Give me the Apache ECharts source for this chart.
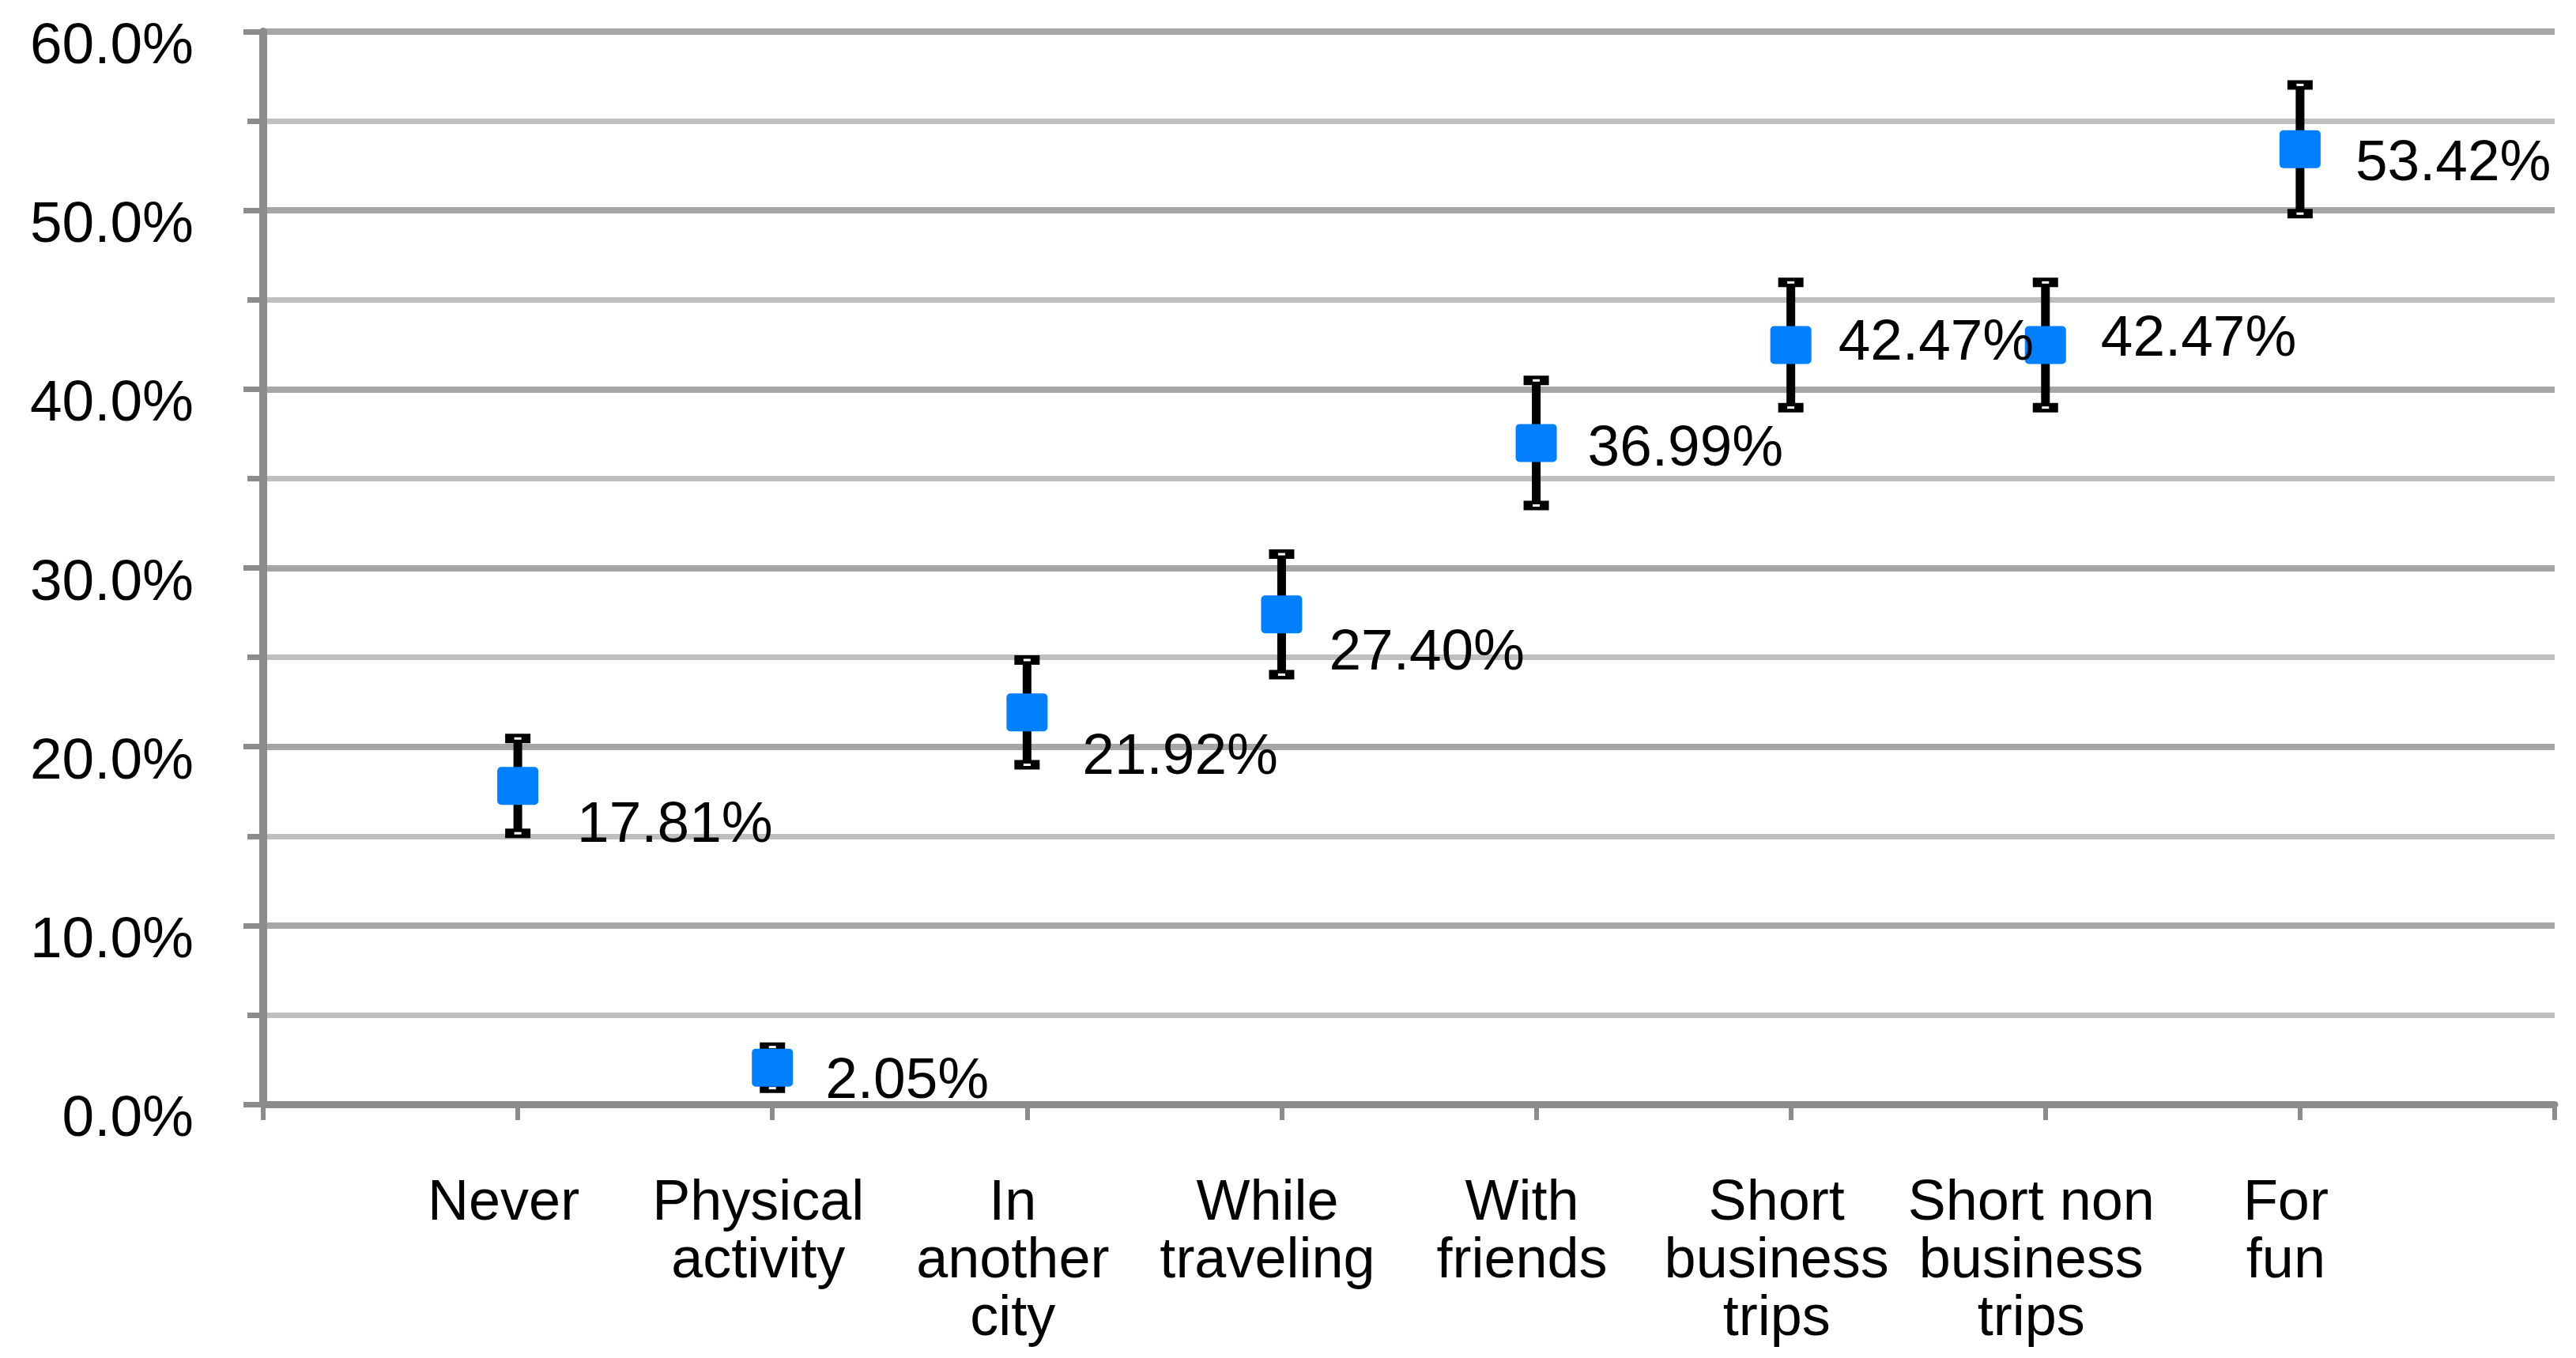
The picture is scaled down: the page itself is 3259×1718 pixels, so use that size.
<!DOCTYPE html>
<html>
<head>
<meta charset="utf-8">
<script src="https://cdn.jsdelivr.net/npm/echarts@6/dist/echarts.min.js"></script>
<style>
html,body{margin:0;padding:0;background:#fff;}
#chart{width:3259px;height:1718px;}
</style>
</head>
<body>
<div id="chart"></div>
<script>
// ---- data ----
const categories = ['Never', 'Physical\nactivity', 'In\nanother\ncity', 'While\ntraveling', 'With\nfriends', 'Short\nbusiness\ntrips', 'Short non\nbusiness\ntrips', 'For\nfun'];
const values = [17.81, 2.05, 21.92, 27.40, 36.99, 42.47, 42.47, 53.42];
const errors = [2.65, 1.15, 2.93, 3.37, 3.5, 3.5, 3.5, 3.6];
const yTickLabels = ['0.0%', '10.0%', '20.0%', '30.0%', '40.0%', '50.0%', '60.0%'];

// ---- label placement (style only) ----
const labelDx = [75, 67, 70, 60, 65, 60, 70, 70];
const labelDy = [51, 18, 58, 50, 8, -2, -7, 19];

const FONT = 'Liberation Sans, Arial, Helvetica, sans-serif';
const axisCats = [''].concat(categories, ['']);

const chart = echarts.init(document.getElementById('chart'), null, {renderer: 'canvas'});

const errData = values.map((v, i) => [i + 1, v, errors[i]]);
const ptData = values.map((v, i) => ({
  value: [i + 1, v],
  label: {distance: labelDx[i] - 26, offset: [0, labelDy[i]]}
}));

const option = {
  animation: false,
  backgroundColor: '#ffffff',
  grid: {left: 333, right: 27, top: 40, bottom: 321, containLabel: false},
  xAxis: {
    type: 'category',
    data: axisCats,
    boundaryGap: false,
    axisLine: {show: true, lineStyle: {color: '#8c8c8c', width: 9}},
    axisTick: {show: true, interval: 0, alignWithLabel: true, length: 20, lineStyle: {color: '#8c8c8c', width: 6}},
    axisLabel: {
      interval: 0, margin: 90, color: '#000', fontFamily: FONT, fontSize: 72,
      lineHeight: 73, align: 'center', padding: [0, 36, 0, 0]
    },
    splitLine: {show: false}
  },
  yAxis: {
    type: 'value',
    min: 0, max: 60, interval: 10,
    axisLine: {show: true, lineStyle: {color: '#8c8c8c', width: 10}},
    axisTick: {show: true, length: 25, lineStyle: {color: '#8c8c8c', width: 7}},
    minorTick: {show: true, splitNumber: 2, length: 20, lineStyle: {color: '#8c8c8c', width: 7}},
    axisLabel: {
      margin: 88, color: '#000', fontFamily: FONT, fontSize: 73,
      formatter: v => '{a|' + yTickLabels[Math.round(v / 10)] + '}',
      rich: {
        a: {color: '#000', fontFamily: FONT, fontSize: 73, padding: [40, 0, 0, 0]}
      }
    },
    splitLine: {show: true, lineStyle: {color: '#a6a6a6', width: 8}},
    minorSplitLine: {show: true, lineStyle: {color: '#bfbfbf', width: 7}}
  },
  series: [
    {
      type: 'custom',
      z: 3,
      encode: {x: 0, y: 1},
      data: errData,
      renderItem: function (params, api) {
        const x = api.value(0), v = api.value(1), e = api.value(2);
        const top = api.coord([x, v + e]);
        const bot = api.coord([x, v - e]);
        const cx = top[0];
        const capW = 32, capH = 12;
        return {
          type: 'group',
          children: [
            {type: 'line', shape: {x1: cx, y1: top[1], x2: cx, y2: bot[1]}, style: {stroke: '#000', lineWidth: 11, opacity: 1}},
            {type: 'rect', shape: {x: cx - capW / 2, y: top[1] - capH / 2, width: capW, height: capH}, style: {fill: '#000'}},
            {type: 'rect', shape: {x: cx - 4.5, y: top[1] - 1.5, width: 9, height: 3}, style: {fill: '#fff'}},
            {type: 'rect', shape: {x: cx - capW / 2, y: bot[1] - capH / 2, width: capW, height: capH}, style: {fill: '#000'}},
            {type: 'rect', shape: {x: cx - 4.5, y: bot[1] - 1.5, width: 9, height: 3}, style: {fill: '#fff'}}
          ]
        };
      }
    },
    {
      type: 'scatter',
      z: 5,
      symbol: 'path://M5,0H47A5,5,0,0,1,52,5V43A5,5,0,0,1,47,48H5A5,5,0,0,1,0,43V5A5,5,0,0,1,5,0Z',
      symbolSize: [52, 48],
      itemStyle: {color: '#0080ff', opacity: 1},
      data: ptData,
      label: {
        show: true, position: 'right', color: '#000', opacity: 1, fontFamily: FONT, fontSize: 73,
        formatter: p => values[p.dataIndex].toFixed(2) + '%'
      }
    }
  ]
};
chart.setOption(option);
</script>
</body>
</html>
